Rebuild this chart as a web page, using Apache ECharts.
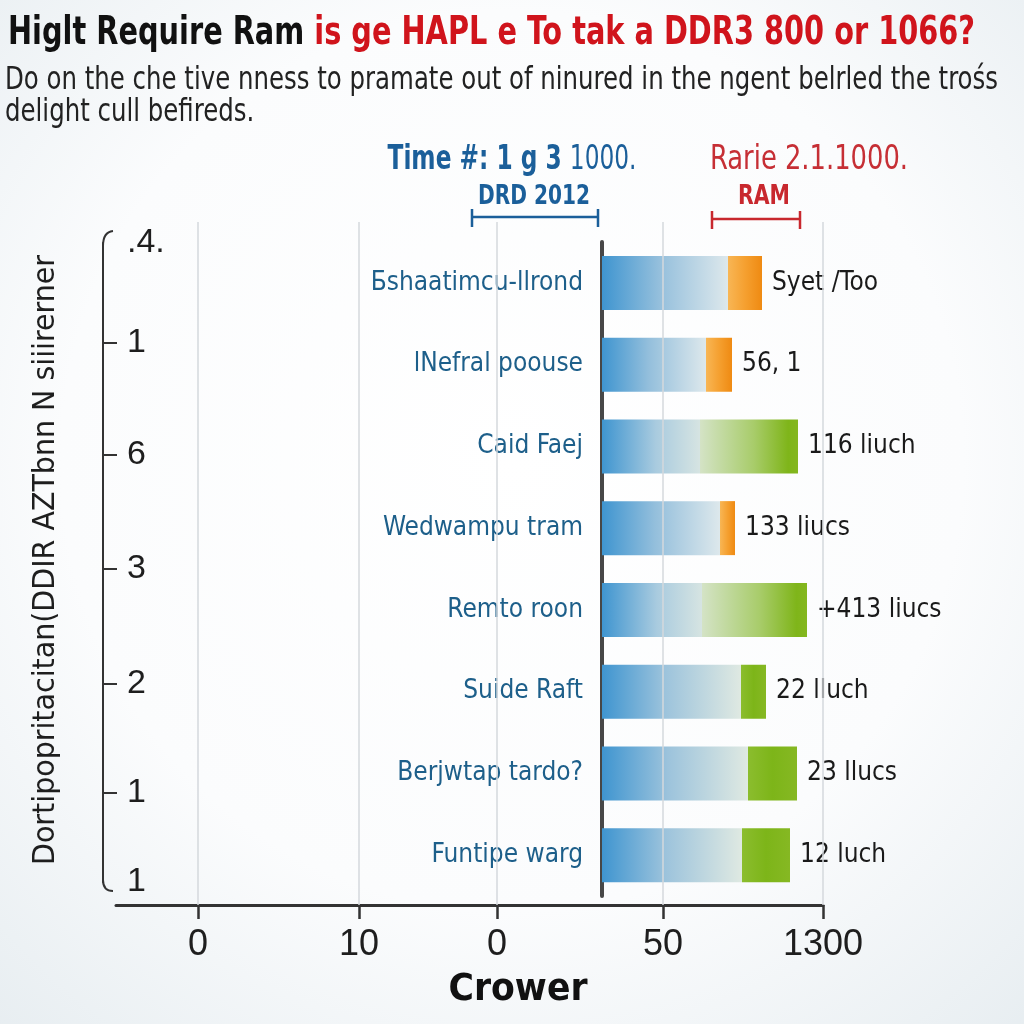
<!DOCTYPE html>
<html><head><meta charset="utf-8">
<script src="https://cdn.jsdelivr.net/npm/echarts@6/dist/echarts.min.js"></script>
<style>html,body{margin:0;padding:0;background:#fff}#c{width:1024px;height:1024px}</style>
</head><body><div id="c"></div>
<script>
// ---- data ----
const categories = ['Бshaatimcu-llrond','lNefral poouse','Caid Faej','Wedwampu tram','Remto roon','Suide Raft','Berjwtap tardo?','Funtipe warg'];
const baseValues = [126, 104, 98, 118, 100, 139, 146, 140];
const capValues  = [34, 26, 98, 15, 105, 25, 49, 48];
const capKinds   = ['orange','orange','greenFade','orange','greenFade','green','green','green'];
const barLabels  = ['Syet /Too','56, 1','116 liuch','133 liucs','+413 liucs','22 lluch','23 llucs','12 luch'];
const xTickValues = [-404, -243, -105, 61, 221];
const xTickLabels = ['0', '10', '0', '50', '1300'];
const leftTickValues = [0, 100, 212, 326, 441, 550, 639];
const leftTickLabels = ['.4.', '1', '6', '3', '2', '1', '1'];
const xMin = -486, xMax = 221;

// ---- helpers ----
const NARROW = '"Liberation Sans Narrow", "DejaVu Sans Condensed", "Noto Sans", sans-serif';
const REG = '"Liberation Sans", "Noto Sans", sans-serif';
const ctx = document.createElement('canvas').getContext('2d');
function tw(str, weight, size) { ctx.font = weight + ' ' + size + 'px ' + NARROW; return ctx.measureText(str).width; }
function gtext(x, y, parts, align, targetWidth, extra) {
  const w = parts.reduce((s, p) => s + tw(p.text, p.weight, p.size), 0);
  const rich = {}; let txt = '';
  parts.forEach((p, i) => { rich['p' + i] = { fontSize: p.size, fontWeight: p.weight, fontFamily: NARROW, fill: p.color, color: p.color }; txt += '{p' + i + '|' + p.text + '}'; });
  return Object.assign({ type: 'text', x: x, y: y, scaleX: targetWidth / w, z: 10,
    style: { text: txt, rich: rich, fontFamily: NARROW, fontSize: parts[0].size, fontWeight: parts[0].weight, fill: parts[0].color,
      align: align, verticalAlign: 'middle', textAlign: align, textVerticalAlign: 'middle' } }, extra || {});
}
function lin(stops) { return { type: 'linear', x: 0, y: 0, x2: 1, y2: 0, colorStops: stops.map(s => ({ offset: s[0], color: s[1] })) }; }
const baseGrad = {
  orange: lin([[0, '#3f95d0'], [0.45, '#94bfdc'], [1, '#dde8ec']]),
  green: lin([[0, '#3f95d0'], [0.45, '#9cc3dc'], [1, '#dfe9e2']]),
  greenFade: lin([[0, '#3f95d0'], [0.55, '#a9cbdf'], [1, '#d6e4e2']])
};
const capGrad = {
  orange: lin([[0, '#f8b655'], [0.5, '#f5a030'], [1, '#ef8a12']]),
  green: lin([[0, '#8bbd2e'], [0.5, '#7db519'], [1, '#86b823']]),
  greenFade: lin([[0, '#d4e3c6'], [0.55, '#a8cc6a'], [0.9, '#7fb51a'], [1, '#84b71f']])
};

const subLine1 = 'Do on the che tive nness to pramate out of ninured in the ngent belrled the trośs';
const subLine2 = 'delight cull befireds.';
const subScale = 993 / tw(subLine1, 'normal', 32);

// plot geometry: bottom axis spans 116..823 px, bars start at value 0
const plotLeft = 116, plotRight = 201;
const zeroLeft = plotLeft + (0 - xMin) * (1024 - plotLeft - plotRight) / (xMax - xMin);

const chart = echarts.init(document.getElementById('c'), null, { renderer: 'canvas' });
chart.setOption({
  backgroundColor: { type: 'radial', x: 0.5, y: 0.45, r: 0.8, colorStops: [
    { offset: 0, color: '#ffffff' }, { offset: 0.55, color: '#fbfcfd' }, { offset: 1, color: '#e4ebef' }] },
  animation: false,
  grid: [
    { left: zeroLeft, right: plotRight, top: 242, bottom: 128, containLabel: false, outerBoundsMode: 'none' },
    { left: plotLeft, right: plotRight, top: 222, bottom: 119, containLabel: false, outerBoundsMode: 'none' },
    { left: 103, width: 300, top: 243, bottom: 142, containLabel: false, outerBoundsMode: 'none' }
  ],
  xAxis: [
    { gridIndex: 0, type: 'value', min: 0, max: xMax, show: false },
    { gridIndex: 1, type: 'value', min: xMin, max: xMax, position: 'bottom',
      axisLine: { show: true, lineStyle: { color: '#333', width: 3 } },
      axisTick: { show: true, customValues: xTickValues, length: 14, lineStyle: { color: '#333', width: 2.5 } },
      axisLabel: { show: true, customValues: xTickValues, margin: 22, fontSize: 36, fontFamily: REG, color: '#1e1e1e',
        formatter: v => { const i = xTickValues.indexOf(v); return i >= 0 ? xTickLabels[i] : ''; } },
      splitLine: { show: false } },
    { gridIndex: 2, type: 'value', show: false }
  ],
  yAxis: [
    { gridIndex: 0, type: 'category', inverse: true, data: categories,
      axisLine: { show: true, onZero: false, lineStyle: { color: '#474747', width: 4 } },
      axisTick: { show: false },
      axisLabel: { margin: 19, fontSize: 26, fontFamily: NARROW, color: '#1d5f8a' } },
    { gridIndex: 1, type: 'value', min: 0, max: 1, show: false },
    { gridIndex: 2, type: 'value', inverse: true, min: leftTickValues[0], max: leftTickValues[leftTickValues.length - 1],
      axisLine: { show: true, onZero: false, lineStyle: { color: '#333', width: 2 } },
      axisTick: { show: true, inside: true, length: 14, customValues: leftTickValues.slice(1, -1), lineStyle: { color: '#333', width: 2 } },
      axisLabel: { inside: true, margin: 24, fontSize: 34, fontFamily: REG, color: '#1e1e1e', customValues: leftTickValues,
        formatter: v => { const i = leftTickValues.indexOf(v); return i >= 0 ? leftTickLabels[i] : ''; } },
      splitLine: { show: false } }
  ],
  series: [
    { type: 'line', xAxisIndex: 1, yAxisIndex: 1, data: [], silent: true,
      markLine: { silent: true, symbol: ['none', 'none'], label: { show: false },
        lineStyle: { color: '#d4d9dc', width: 1.5, type: 'solid' },
        data: xTickValues.map(v => ({ xAxis: v })) } },
    { name: 'base', type: 'bar', stack: 'total', xAxisIndex: 0, yAxisIndex: 0, barWidth: 54,
      data: baseValues.map((v, i) => ({ value: v, itemStyle: { color: baseGrad[capKinds[i]] } })) },
    { name: 'cap', type: 'bar', stack: 'total', xAxisIndex: 0, yAxisIndex: 0, barWidth: 54,
      data: capValues.map((v, i) => ({ value: v, itemStyle: { color: capGrad[capKinds[i]] } })),
      label: { show: true, position: 'right', distance: 10, fontSize: 26, fontFamily: NARROW, color: '#1a1a1a',
        formatter: p => barLabels[p.dataIndex] } }
  ],
  graphic: [
    gtext(8, 34, [{ text: 'Higlt Require Ram ', weight: 'bold', size: 39, color: '#111111' },
                  { text: 'is ge HAPL e To tak a DDR3 800 or 1066?', weight: 'bold', size: 39, color: '#d0141c' }], 'left', 967),
    gtext(5, 81, [{ text: subLine1, weight: 'normal', size: 32, color: '#222222' }], 'left', 993),
    gtext(5, 113, [{ text: subLine2, weight: 'normal', size: 32, color: '#222222' }], 'left', tw(subLine2, 'normal', 32) * subScale),
    gtext(512, 160, [{ text: 'Time #: 1 g 3 ', weight: 'bold', size: 33, color: '#1b5f9a' },
                     { text: '1000.', weight: 'normal', size: 33, color: '#1b5f9a' }], 'center', 249),
    gtext(809, 160, [{ text: 'Rarie 2.1.1000.', weight: 'normal', size: 33, color: '#c62f35' }], 'center', 198),
    gtext(534, 197, [{ text: 'DRD 2012', weight: 'bold', size: 27, color: '#1b5f9a' }], 'center', 112),
    gtext(764, 197, [{ text: 'RAM', weight: 'bold', size: 27, color: '#c8282e' }], 'center', 52),
    gtext(518, 990, [{ text: 'Crower', weight: 'bold', size: 38, color: '#111111' }], 'center', 139),
    gtext(46, 560, [{ text: 'Dortipopritacitan(DDIR AZTbnn N siiirerner', weight: 'normal', size: 31, color: '#1e1e1e' }], 'center', 610, { rotation: Math.PI / 2 }),
    { type: 'group', z: 10, children: [
      { type: 'line', shape: { x1: 472, y1: 217, x2: 598, y2: 217 }, style: { stroke: '#1b5f9a', lineWidth: 2.5 } },
      { type: 'line', shape: { x1: 472, y1: 209, x2: 472, y2: 227 }, style: { stroke: '#1b5f9a', lineWidth: 2.5 } },
      { type: 'line', shape: { x1: 598, y1: 209, x2: 598, y2: 227 }, style: { stroke: '#1b5f9a', lineWidth: 2.5 } },
      { type: 'line', shape: { x1: 712, y1: 219, x2: 800, y2: 219 }, style: { stroke: '#c8282e', lineWidth: 2.5 } },
      { type: 'line', shape: { x1: 712, y1: 211, x2: 712, y2: 229 }, style: { stroke: '#c8282e', lineWidth: 2.5 } },
      { type: 'line', shape: { x1: 800, y1: 211, x2: 800, y2: 229 }, style: { stroke: '#c8282e', lineWidth: 2.5 } },
      { type: 'bezierCurve', shape: { x1: 103, y1: 246, cpx1: 103, cpy1: 232, x2: 113, y2: 231 }, style: { stroke: '#333', lineWidth: 2, fill: null } },
      { type: 'bezierCurve', shape: { x1: 103, y1: 880, cpx1: 103, cpy1: 891, x2: 113, y2: 891 }, style: { stroke: '#333', lineWidth: 2, fill: null } }
    ] }
  ]
});
</script>
</body></html>
